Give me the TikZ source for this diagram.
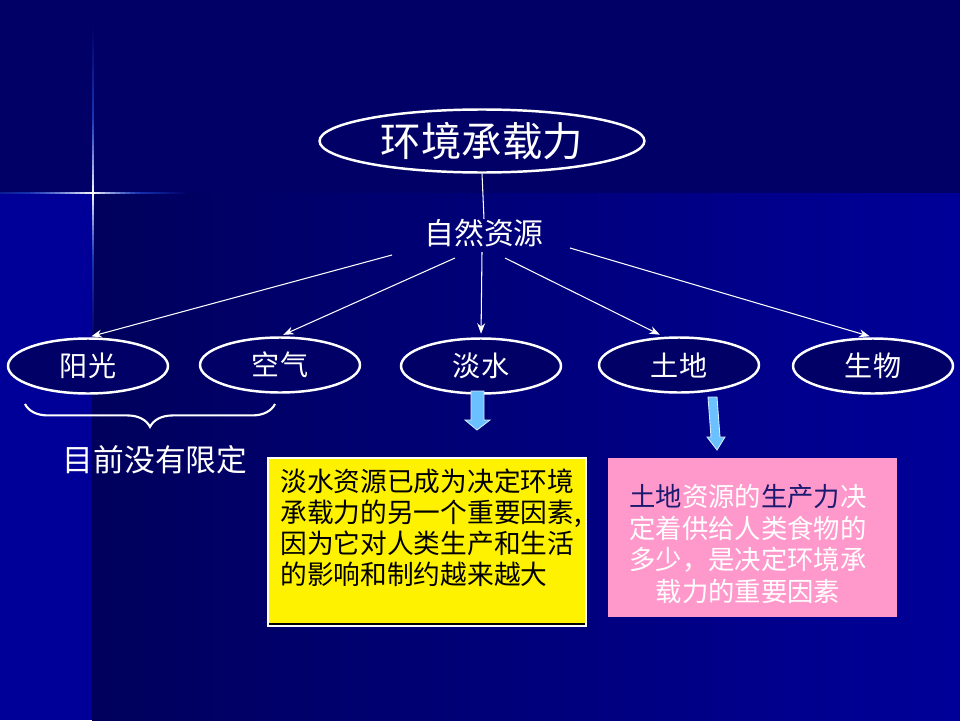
\documentclass[tikz,border=0pt]{standalone}
\usepackage{fontspec}
\newfontfamily\cjk{Noto Sans CJK SC}
\usetikzlibrary{shapes.geometric,arrows.meta,decorations.pathreplacing,calc}
\definecolor{navy}{HTML}{000066}
\definecolor{bright}{HTML}{000099}
\definecolor{darkbg}{HTML}{00005C}
\definecolor{starblue}{HTML}{2A60F5}
\definecolor{arrowblue}{HTML}{6BC0FF}
\definecolor{pinkbox}{HTML}{FF99CC}
\definecolor{darktxt}{HTML}{1A1A70}
\begin{document}
\begin{tikzpicture}[x=0.02cm,y=-0.02cm,
  font=\cjk,
  ell/.style={ellipse, draw=white, line width=1.4pt, fill=navy, text=white, inner sep=0pt},
  smallell/.style={ell, minimum width=3.2cm, minimum height=1.1cm, font=\cjk\fontsize{16}{18}\selectfont},
  conn/.style={draw=white, line width=0.6pt},
  arr/.style={conn, -{Stealth[length=6pt,width=4.5pt]}, shorten >=2pt},
  bluearr/.style={fill=arrowblue, draw=white!70!arrowblue, line width=0.5pt},
  wtxt/.style={text=white, inner sep=0pt}
]
\useasboundingbox (0,0) rectangle (960,720);
% background
\fill[navy] (0,0) rectangle (960,193);
\fill[bright] (0,193) rectangle (92,720);
\shade[left color=darkbg, right color=bright] (92,193) rectangle (960,720);
% star: vertical ray
\foreach \i in {0,...,62} {
  \pgfmathsetmacro{\ya}{25+\i*5}
  \pgfmathsetmacro{\yb}{\ya+5.3}
  \pgfmathsetmacro{\d}{abs(\ya+2.5-193)/(\ya<193 ? 168 : 147)}
  \pgfmathsetmacro{\w}{max(0,100*(1-\d/0.45))}
  \pgfmathsetmacro{\b}{max(0,100*(1-\d))}
  \fill[color=white!\w!starblue!\b!navy] (91.9,\ya) rectangle (93.7,\yb);
}
% star: horizontal ray
\foreach \i in {0,...,36} {
  \pgfmathsetmacro{\xa}{\i*5}
  \pgfmathsetmacro{\xb}{\xa+5.3}
  \pgfmathsetmacro{\d}{abs(\xa+2.5-92.8)/(\xa<92 ? 130 : 95)}
  \pgfmathsetmacro{\w}{max(0,100*(1-\d/0.5))}
  \pgfmathsetmacro{\b}{max(0,100*(1-\d))}
  \fill[color=white!\w!starblue!\b!navy] (\xa,192.2) rectangle (\xb,194);
}

% top ellipse
\node[ell, minimum width=6.5cm, minimum height=1.26cm, font=\cjk\fontsize{23}{26}\selectfont] (top) at (482,141) {环境承载力};
\node[wtxt, font=\cjk\fontsize{17}{20}\selectfont] (zr) at (484,233) {自然资源};
\draw[conn] (top.south) -- (zr.north);

% five ellipses
\node[smallell] (yg) at (88,366) {阳光};
\node[smallell] (kq) at (280,365) {空气};
\node[smallell] (ds) at (481,366) {淡水};
\node[smallell] (td) at (679,365) {土地};
\node[smallell] (sw) at (873,366) {生物};

\coordinate (s1) at (392,255);
\coordinate (s2) at (455,258);
\coordinate (s3) at (482,252);
\coordinate (s4) at (505,258);
\coordinate (s5) at (570,248);
\draw[arr] (s1) -- (yg.north);
\draw[arr] (s2) -- (kq.north);
\draw[arr] (s3) -- (ds.north);
\draw[arr] (s4) -- ($(td.north)+(-16,0)$);
\draw[arr] (s5) -- (sw.north);

% brace
\coordinate (b1) at (25,404);
\coordinate (b2) at (275,404);
\draw[white, line width=1.2pt, decorate,
  decoration={brace, mirror, amplitude=13pt, aspect=0.5}] (b1) -- (b2);
\node[wtxt, font=\cjk\fontsize{17.5}{20}\selectfont] (mq) at (155,460) {目前没有限定};

% blue arrows
\fill[bluearr] (471,391) -- (484,391) -- (484,420) -- (490,420) -- (477,430) -- (465,420) -- (471,420) -- cycle;
\fill[bluearr] (708,397) -- (717,397) -- (720,437) -- (725,437) -- (717,450) -- (707,437) -- (711,437) -- cycle;

% yellow box
\node[draw=white, line width=1pt, fill=yellow, minimum width=6.36cm, minimum height=3.36cm, inner sep=0pt] (yb) at (427,542) {};
\draw[black, line width=1pt] ($(yb.south west)+(2,-3)$) -- ($(yb.south east)+(-2,-3)$);
\node[anchor=north west, inner sep=0pt, align=left, text=black,
  font=\cjk\fontsize{15.2}{17.6}\selectfont] (yt) at (280,469)
  {淡水资源已成为决定环境\\承载力的另一个重要因素,\\因为它对人类生产和生活\\的影响和制约越来越大};

% pink box
\node[fill=pinkbox, minimum width=5.78cm, minimum height=3.18cm, inner sep=0pt] (pb) at (752.5,537.5) {};
\node[inner sep=0pt, align=center, text=white,
  font=\cjk\fontsize{15}{18.1}\selectfont] (pt) at (748,544)
  {\textcolor{darktxt}{土地}资源的\textcolor{darktxt}{生产力}决\\定着供给人类食物的\\多少，是决定环境承\\载力的重要因素};
\end{tikzpicture}
\end{document}
